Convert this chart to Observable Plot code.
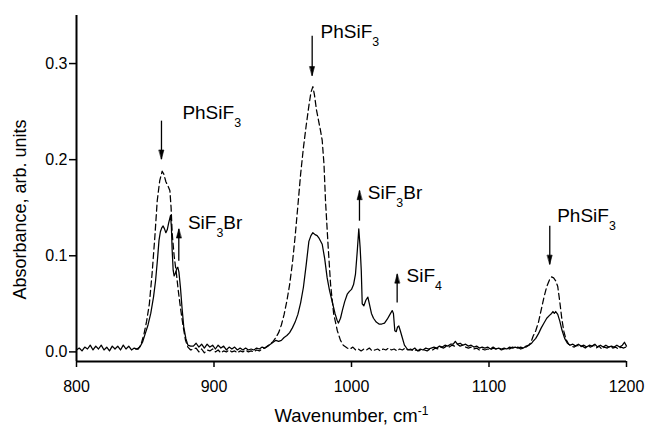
<!DOCTYPE html>
<html>
<head>
<meta charset="utf-8">
<script src="https://cdn.jsdelivr.net/npm/d3@7"></script>
<script src="https://cdn.jsdelivr.net/npm/@observablehq/plot@0.6"></script>
<style>
  html, body { margin: 0; padding: 0; background: #fff; }
  #chart { width: 647px; height: 432px; }
</style>
</head>
<body>
<div id="chart"></div>
<script>
// ---------- data ----------
const xDomain = [800, 1200];
const yDomain = [-0.01, 0.35];
const xTicks = [800, 900, 1000, 1100, 1200];
const yTicks = [0.0, 0.1, 0.2, 0.3];

// solid spectrum
const solidWn = [
  800,802,804,806,808,810,812,814,816,818,820,822,824,826,828,830,832,834,836,838,840,842,844,846,848,850,
  852,854,856,857.5,859,860,861,862,863,864,865,866,867,868.4,869,869.6,870.3,871,872,873,873.7,874.5,875.6,
  876.8,878,879.5,881,883,885,887,889,891,893,895,897,899,901,903,905,907,909,911,913,915,917,919,921,923,925,
  927,929,931,933,935,937,939,941,943,945,947,949,951,953,955,957,959,961,963,965,967,969,970.5,971.9,973.5,
  975,976.5,978.7,980.5,982.3,984,986,988,989.5,990.5,992,993.5,995,996.9,998.5,1000,1001.5,1002.9,1004.2,
  1005.3,1006.3,1007.1,1007.8,1009,1010.5,1011.9,1013,1014.5,1016,1018,1020,1022,1024,1026,1028,1029.6,1030.5,
  1031.5,1032.5,1033.5,1034.4,1035.5,1036.9,1038.5,1040.5,1042,1044,1046,1048,1050,1052,1054,1056,1058,1060,
  1062,1064,1066,1068,1070,1072,1074,1075.5,1077,1079,1081,1083,1085,1087,1089,1091,1093,1095,1097,1099,1101,
  1103,1105,1107,1109,1111,1113,1115,1117,1119,1121,1123,1125,1127,1129,1131,1132,1134,1136,1138,1140,1142,
  1144,1145.5,1146.5,1147.5,1148.5,1150,1151.5,1153,1155,1157,1159,1161,1163,1165,1167,1169,1171,1173,1175,
  1177,1179,1181,1183,1185,1187,1189,1191,1193,1195,1197,1198.5,1200
];
const solidAbs = [
  .002,.004,.001,.005,.003,.007,.002,.006,.003,.007,.002,.005,.001,.006,.003,.006,.002,.007,.003,.006,.002,.004,.003,.005,.010,.019,
  .028,.040,.057,.074,.098,.116,.125,.129,.131,.128,.124,.127,.134,.142,.130,.105,.085,.079,.082,.087,.088,.083,.067,
  .045,.026,.014,.007,.006,.006,.009,.005,.008,.004,.008,.005,.007,.003,.007,.004,.006,.002,.005,.003,.005,.002,.004,.002,.004,.002,
  .003,.002,.004,.003,.005,.004,.006,.008,.010,.012,.011,.012,.015,.017,.020,.025,.031,.039,.051,.067,.090,.115,.121,.124,.122,
  .121,.118,.112,.097,.077,.064,.052,.040,.033,.030,.035,.044,.052,.060,.063,.065,.070,.081,.105,
  .128,.108,.085,.050,.048,.054,.057,.050,.040,.035,.031,.029,.029,.030,.034,.039,.043,.040,
  .022,.021,.026,.027,.022,.015,.007,.003,.002,.002,.004,.001,.003,.002,.004,.003,.004,.005,
  .004,.006,.005,.007,.006,.008,.008,.011,.008,.009,.007,.008,.006,.007,.005,.006,.004,.005,.004,.005,.003,
  .005,.003,.004,.003,.004,.003,.005,.004,.005,.004,.005,.004,.006,.007,.009,.011,.014,.019,.025,.030,.035,
  .038,.040,.042,.040,.042,.039,.032,.023,.014,.009,.007,.008,.006,.008,.006,.007,.005,.007,.006,
  .008,.005,.007,.005,.007,.005,.006,.005,.007,.005,.007,.010,.006
];

// dashed spectrum
const dashWn = [
  843,845,847,849,851,853,855,857,858.7,860.5,862.3,863.5,865,866.4,867.9,868.8,869.6,871,872.7,874,875.6,877.5,
  879.3,881,883,885,887,889,891,893,895,897,899,901,903,905,907,909,911,913,915,917,919,921,923,925,927,929,931,
  933,935,937,939,941,943,945,947,949,951,953,955,957,959,961,963,965,967,969,970.5,971.9,973,974.5,976,977.5,
  978.7,980,981.1,983,984.8,987,989.7,992,994,996.9,999,1001,1003,1005,1007,1009,1011,1013,1015,1017,1019,1021,
  1023,1025,1027,1029,1031,1033,1035,1037,1039,1041,1043,1045,1047,1049,1051,1053,1055,1057,1059,1061,1063,
  1065,1067,1069,1071,1073,1075,1077,1079,1081,1083,1085,1087,1089,1091,1093,1095,1097,1099,1101,1103,1105,
  1107,1109,1111,1113,1115,1117,1119,1121,1123,1125,1127,1129,1130.5,1132,1134,1136,1138,1140,1142,1144,1145.5,
  1147,1148.5,1150,1151.5,1153,1154.5,1156,1158,1160,1162,1164,1166,1168,1170,1172,1174,1176,1178,1180,1182,
  1184,1186,1188,1190,1192,1194,1196,1198,1199.5
];
const dashAbs = [
  .003,.003,.008,.018,.032,.050,.082,.120,.157,.178,.188,.185,.177,.173,.168,.150,.123,.100,.081,.064,.046,.027,
  .012,.005,.002,.003,.004,.000,.003,-.001,.002,.001,.003,.000,.002,-.001,.001,.000,.002,.000,.001,-.001,.001,.000,.002,.000,.001,.000,.002,
  .001,.003,.004,.006,.008,.011,.015,.020,.028,.039,.053,.070,.092,.120,.152,.185,.212,.235,.256,.270,.276,.268,.252,.241,.230,
  .220,.195,.157,.110,.070,.040,.022,.012,.007,.004,.003,.005,.002,.003,.001,.003,.002,.004,.001,.002,.003,.001,
  .003,.002,.004,.002,.003,.001,.003,.002,.004,.002,.003,.001,.002,.001,.003,.002,.001,.003,.002,.004,.003,
  .005,.004,.006,.005,.007,.006,.008,.006,.007,.005,.004,.005,.003,.004,.002,.003,.002,.003,.002,.004,.003,
  .004,.002,.003,.004,.003,.005,.004,.005,.003,.004,.005,.007,.010,.016,.022,.031,.044,.057,.068,.075,.078,
  .077,.074,.068,.052,.034,.021,.013,.008,.006,.005,.007,.005,.006,.004,.006,.005,.007,.004,.006,.003,
  .005,.004,.006,.004,.005,.003,.005,.004,.005
];

// annotations
const annLabel = ["PhSiF_{3}", "SiF_{3}Br", "PhSiF_{3}", "SiF_{3}Br", "SiF_{4}", "PhSiF_{3}"];
const annTextX = [877, 881, 977.5, 1011.9, 1040, 1149.6];
const annTextY = [0.2424, 0.1278, 0.3267, 0.159, 0.0722, 0.1347];
const arrowX    = [861.8, 874.4, 971.4, 1005.8, 1033.2, 1144.2];
const arrowTail = [0.2406, 0.0948, 0.329, 0.1365, 0.0514, 0.1313];
const arrowTip  = [0.2007, 0.1278, 0.2875, 0.1677, 0.0809, 0.0913];

const xTitle = "Wavenumber, cm^{-1}";
const yTitle = "Absorbance, arb. units";

// ---------- build ----------
const solid = solidWn.map((x, i) => ({x, y: solidAbs[i]}));
const dashed = dashWn.map((x, i) => ({x, y: dashAbs[i]}));
const anns = annLabel.map((t, i) => ({
  t, tx: annTextX[i], ty: annTextY[i],
  ax: arrowX[i], y1: arrowTail[i], y2: arrowTip[i],
  rot: arrowTip[i] > arrowTail[i] ? 0 : 180
}));

const headShape = {
  draw(context, l) {
    context.moveTo(0, -l);
    context.lineTo(-2.4, 0);
    context.lineTo(2.4, 0);
    context.closePath();
  }
};

const font = "'Liberation Sans', Arial, Helvetica, sans-serif";

const chart = Plot.plot({
  width: 647,
  height: 432,
  marginLeft: 76,
  marginRight: 21,
  marginTop: 15,
  marginBottom: 71,
  x: {domain: xDomain},
  y: {domain: yDomain},
  style: {fontFamily: font, fontSize: "16px", color: "#000", background: "#fff", overflow: "visible"},
  marks: [
    Plot.axisX({ticks: xTicks, tickFormat: d3.format("d"), tickSize: 6, tickPadding: 13, strokeWidth: 1.5, label: null, fontSize: 16}),
    Plot.axisY({ticks: yTicks, tickFormat: d3.format(".1f"), tickSize: 7, tickPadding: 2, strokeWidth: 1.5, label: null, fontSize: 16}),
    Plot.ruleX([xDomain[0]], {y1: yDomain[0], y2: yDomain[1], strokeWidth: 2, stroke: "#000"}),
    Plot.ruleY([yDomain[0]], {x1: xDomain[0], x2: xDomain[1], strokeWidth: 2, stroke: "#000"}),
    Plot.line(dashed, {x: "x", y: "y", stroke: "#000", strokeWidth: 1.25, strokeDasharray: "6,3.5"}),
    Plot.line(solid, {x: "x", y: "y", stroke: "#000", strokeWidth: 1.25}),
    Plot.link(anns, {x1: "ax", x2: "ax", y1: "y1", y2: "y2", stroke: "#000", strokeWidth: 1.3}),
    Plot.vector(anns, {x: "ax", y: "y2", rotate: "rot", length: 9, anchor: "end", shape: headShape, fill: "#000", stroke: "#000", strokeWidth: 0.6}),
    Plot.text(anns, {x: "tx", y: "ty", text: "t", textAnchor: "start", lineAnchor: "bottom", fontSize: 19, fill: "#000"}),
    Plot.text([xTitle], {frameAnchor: "bottom", dy: 60, fontSize: 18.5, fill: "#000"}),
    Plot.text([yTitle], {frameAnchor: "left", textAnchor: "middle", rotate: -90, dx: -56, dy: 21, fontSize: 18, fill: "#000"})
  ]
});

// render sub/superscripts as real tspans
d3.select(chart).selectAll("text").each(function () {
  const t = this.textContent;
  if (!/[_^]\{/.test(t)) return;
  const sel = d3.select(this);
  sel.text(null);
  const re = /([_^])\{([^}]*)\}/g;
  let last = 0, m, shift = 0;
  while ((m = re.exec(t))) {
    if (m.index > last) {
      sel.append("tspan").attr("dy", shift ? -shift : null).text(t.slice(last, m.index));
      shift = 0;
    }
    const d = m[1] === "_" ? 8 : -7;
    sel.append("tspan").attr("dy", d - shift).attr("font-size", "0.65em").text(m[2]);
    shift = d;
    last = re.lastIndex;
  }
  if (last < t.length) sel.append("tspan").attr("dy", shift ? -shift : null).text(t.slice(last));
});

document.getElementById("chart").appendChild(chart);
</script>
</body>
</html>
